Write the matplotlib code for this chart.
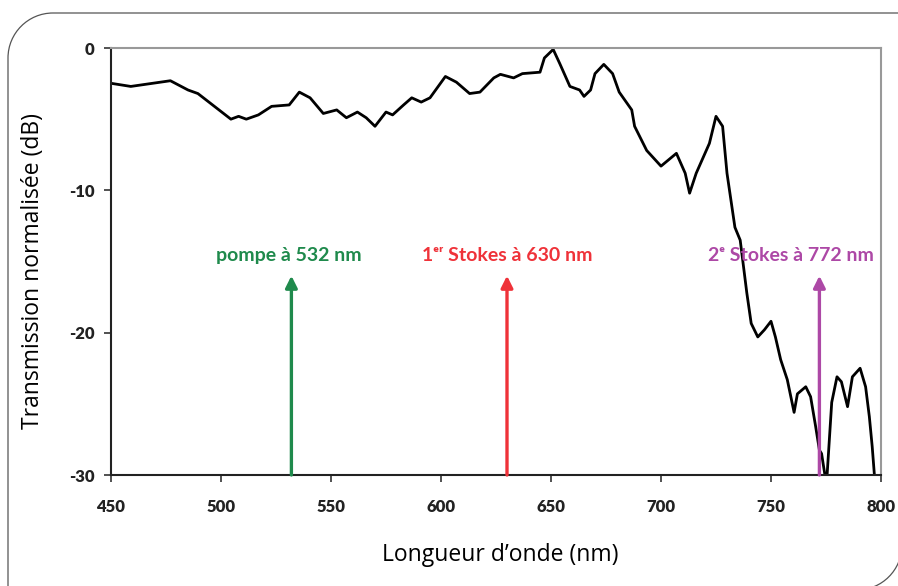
import matplotlib
matplotlib.use("Agg")
import matplotlib.pyplot as plt
from matplotlib.patches import PathPatch
from matplotlib.path import Path
from matplotlib.transforms import IdentityTransform

# Data
wavelength_nm = [450, 459, 468, 477, 485, 489.5, 497, 504.5, 508, 511.5, 517, 523, 531, 535.6,
                 540.5, 546.5, 552.6, 557, 562, 566, 570, 575, 578, 583, 586.7, 591, 595, 602,
                 607, 613, 617.7, 624, 627, 633, 637, 645, 647, 651, 654, 658.6, 663, 665, 668,
                 670, 674, 678, 681, 686.7, 688, 693.5, 700, 707, 711, 713, 716, 722, 725, 728,
                 730, 733.6, 736, 739, 741, 744, 747, 750, 752, 754.4, 757.4, 760.5, 762, 765.8,
                 768, 770.3, 772, 773, 774.5, 775.5, 777.6, 780, 782, 784.8, 787, 790.5, 793,
                 794.7, 796, 797]
transmission_db = [-2.48, -2.7, -2.5, -2.3, -2.95, -3.2, -4.1, -5.0, -4.8, -5.0, -4.7, -4.1, -4.0, -3.1,
                   -3.5, -4.6, -4.35, -4.9, -4.5, -4.9, -5.5, -4.5, -4.7, -4.0, -3.5, -3.8, -3.5, -2.0,
                   -2.4, -3.2, -3.1, -2.1, -1.85, -2.1, -1.8, -1.7, -0.7, -0.1, -1.1, -2.7, -2.95, -3.4, -2.95,
                   -1.8, -1.15, -1.8, -3.1, -4.35, -5.5, -7.2, -8.3, -7.4, -8.8, -10.2, -8.8, -6.7, -4.8, -5.5,
                   -8.8, -12.6, -13.5, -17.2, -19.35, -20.3, -19.8, -19.2, -20.3, -21.9, -23.3, -25.6, -24.3, -23.8,
                   -24.5, -26.6, -28.25, -28.5, -30.0, -30.0, -24.9, -23.1, -23.45, -25.2, -23.1, -22.5, -23.8,
                   -25.9, -28.0, -30.0]

marker_nm = [532, 630, 772]
marker_labels = ["pompe à 532 nm", "1ᵉʳ Stokes à 630 nm", "2ᵉ Stokes à 772 nm"]
marker_label_x = [531, 630, 759]
marker_colors = ["#1f8a4c", "#ef3239", "#ad48a6"]
arrow_top_db = -16.0
label_db = -14.6

x_ticks = [450, 500, 550, 600, 650, 700, 750, 800]
y_ticks = [0, -10, -20, -30]

W, H = 898, 586
fig = plt.figure(figsize=(W / 100, H / 100), dpi=100)
fig.patch.set_facecolor("white")

# Decorative frame: rounded top-left and bottom-right corners (pixel coords, y up)
r = 45
k = 0.5523 * r
L, T, R, B = 8, H - 13, 902, H - 590
verts = [
    (W + 20, T), (L + r, T),
    (L + r - k, T), (L, T - r + k), (L, T - r),
    (L, B - 20),
]
codes = [Path.MOVETO, Path.LINETO, Path.CURVE4, Path.CURVE4, Path.CURVE4, Path.LINETO]
path1 = Path(verts, codes)
verts2 = [(R - r, B), (R - r + k, B), (R, B + r - k), (R, B + r)]
codes2 = [Path.MOVETO, Path.CURVE4, Path.CURVE4, Path.CURVE4]
path2 = Path(verts2, codes2)
for p in (path1, path2):
    patch = PathPatch(p, transform=IdentityTransform(), fill=False,
                      edgecolor="#555555", linewidth=0.9)
    patch.set_figure(fig)
    fig.patches.append(patch)

ax = fig.add_axes([111 / W, 111 / H, 770 / W, 427 / H])
ax.plot(wavelength_nm, transmission_db, color="black", linewidth=2.0, solid_joinstyle="round",
        clip_on=True)
ax.set_xlim(450, 800)
ax.set_ylim(-30, 0)
ax.set_xticks(x_ticks)
ax.set_yticks(y_ticks)

font = "Lato"
ax.set_xticklabels([str(v) for v in x_ticks], fontfamily=font, fontweight="heavy", fontsize=12,
                   color="#222222")
ax.set_yticklabels([str(v) for v in y_ticks], fontfamily=font, fontweight="heavy", fontsize=12,
                   color="#222222")
ax.tick_params(axis="both", direction="out", length=5, width=1.2, color="#333333")
ax.tick_params(axis="x", pad=12)
ax.tick_params(axis="y", pad=7)

ax.spines["left"].set_color("#222222")
ax.spines["bottom"].set_color("#222222")
ax.spines["left"].set_linewidth(1.5)
ax.spines["bottom"].set_linewidth(1.5)
ax.spines["top"].set_color("#999999")
ax.spines["right"].set_color("#999999")
ax.spines["top"].set_linewidth(1.5)
ax.spines["right"].set_linewidth(1.5)

for nm, lab, lx, c in zip(marker_nm, marker_labels, marker_label_x, marker_colors):
    ax.annotate("", xy=(nm, arrow_top_db), xytext=(nm, -30),
                arrowprops=dict(arrowstyle="-|>,head_length=0.7,head_width=0.35",
                                color=c, linewidth=2.4, shrinkA=0, shrinkB=0))
    ax.text(lx, label_db, lab, color=c, ha="center", va="center",
            fontfamily=[font, "DejaVu Sans"], fontweight="bold", fontsize=14)

ax.set_xlabel("Longueur d’onde (nm)", fontfamily="Open Sans", fontsize=16.5)
ax.set_ylabel("Transmission normalisée (dB)", fontfamily="Open Sans", fontsize=16.5)
ax.xaxis.set_label_coords(0.505, -0.187)
ax.xaxis.label.set_va("center")
ax.yaxis.set_label_coords(-0.101, 0.4766)
ax.yaxis.label.set_va("center")

fig.savefig("out.png", dpi=100)
